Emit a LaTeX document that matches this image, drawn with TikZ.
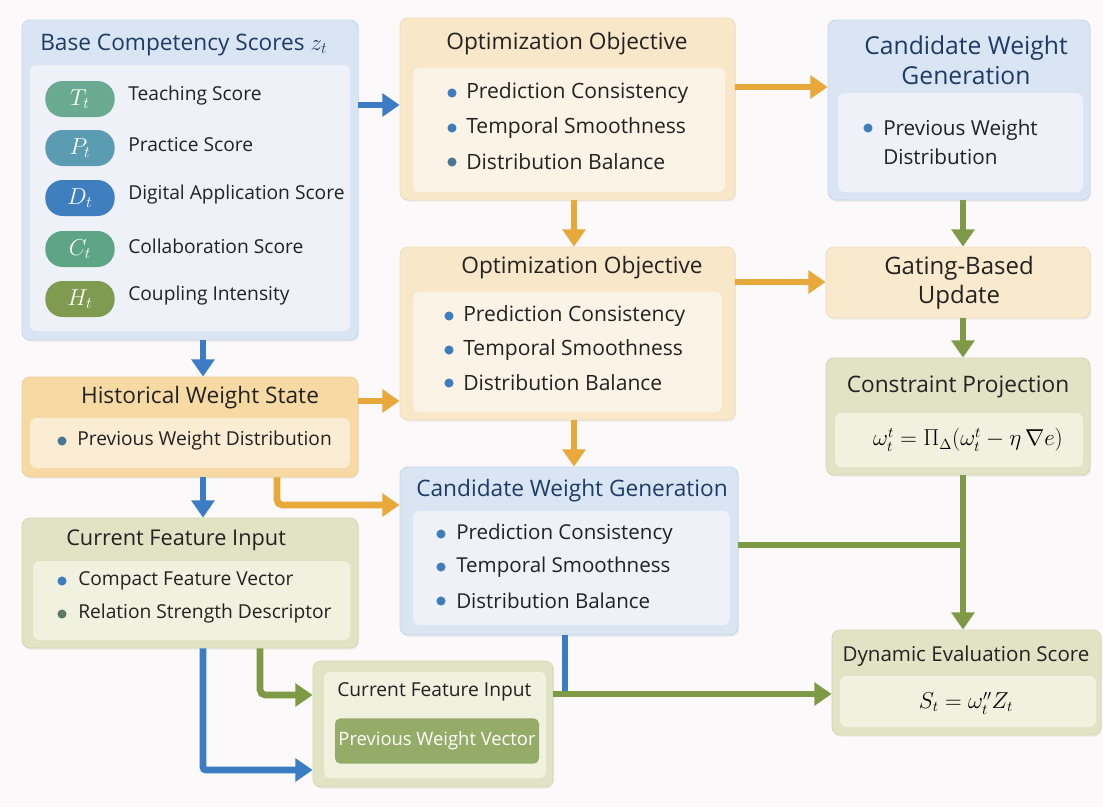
\documentclass[tikz,border=0pt]{standalone}
\usepackage{fontspec}
\setmainfont{Open Sans}
\usepackage{tikz}
\usetikzlibrary{arrows.meta,positioning,fit,shadows}

% palette
\definecolor{bg}{HTML}{FBF9F9}
\definecolor{bluefill}{HTML}{D9E5F3}
\definecolor{blueline}{HTML}{C6D7EB}
\definecolor{bluein}{HTML}{EEF1F8}
\definecolor{orfill}{HTML}{F8E7C8}
\definecolor{orline}{HTML}{F0DDBA}
\definecolor{orin}{HTML}{FBF3E6}
\definecolor{histfill}{HTML}{F7DAA3}
\definecolor{histline}{HTML}{EFCF94}
\definecolor{histin}{HTML}{FBEDD4}
\definecolor{grfill}{HTML}{E0E4C5}
\definecolor{grline}{HTML}{D3D8B2}
\definecolor{grin}{HTML}{F0F1DF}
\definecolor{navy}{HTML}{1D3B64}
\definecolor{ink}{HTML}{222222}
\definecolor{lineblue}{HTML}{3B7CC4}
\definecolor{lineor}{HTML}{E8A93A}
\definecolor{linegr}{HTML}{7F9A47}
\definecolor{dotblue}{HTML}{3D7DBE}
\definecolor{dotteal}{HTML}{4A7693}
\definecolor{dotgrey}{HTML}{5E7866}
\definecolor{btngr}{HTML}{94AC68}

\tikzset{
  box/.style={draw=#1line, fill=#1fill, line width=0.6pt, rounded corners=6pt,
    inner sep=0pt, drop shadow={opacity=0.12, shadow xshift=0.8pt, shadow yshift=-1.2pt}},
  title/.style={font=\fontsize{17}{22.5}\selectfont, text=ink, inner sep=0pt},
  item/.style={anchor=west, font=\fontsize{15.8}{22}\selectfont, text=ink, inner sep=0pt},
  sitem/.style={item, font=\fontsize{14.4}{20}\selectfont},
  pill/.style={fill=#1, rounded corners=13pt, minimum width=52pt, minimum height=27pt,
    inner sep=0pt, text=white, font=\fontsize{17}{20}\selectfont},
  barrow/.style={draw=lineblue, line width=5pt, -{Triangle[width=17pt,length=13pt]}},
  oarrow/.style={draw=lineor, line width=5pt, -{Triangle[width=17pt,length=13pt]}},
  garrow/.style={draw=linegr, line width=5pt, -{Triangle[width=17pt,length=13pt]}},
  gline/.style={draw=linegr, line width=5pt},
}

\begin{document}
\begin{tikzpicture}[x=0.75pt, y=-0.75pt]
\fill[bg] (0,0) rectangle (1103,807);
\useasboundingbox (0,0) rectangle (1103,807);

% Left column
\node[box=blue, fit={(22,20) (358,340)}] (base) {};
\fill[bluein, rounded corners=5pt] (30,65) rectangle (350,331);
\node[title, anchor=west, text=navy] (base-t) at (40,45) {Base Competency Scores $z_t$};
\foreach \y/\s/\c/\t [count=\i] in {96/T/6AAA93/Teaching Score, 145/P/5C9CB2/Practice Score,
    195/D/3F7FC0/Digital Application Score, 246/C/5EA585/Collaboration Score,
    296/H/7E9B4F/Coupling Intensity} {
  \definecolor{pc}{HTML}{\c}
  \node[pill=pc] (pill-\i) at (80,\y+3) {$\s_t$};
  \node[sitem] (score-\i) at (128,\y) {\t};
}

\node[box=hist, fit={(22,377) (358,477)}] (hist) {};
\fill[histin, rounded corners=5pt] (30,418) rectangle (350,468);
\node[title] (hist-t) at (200,398) {Historical Weight State};
\fill[dotteal] (62,441) circle (3.4pt);
\node[sitem] (hist-i) at (77,441) {Previous Weight Distribution};

\node[box=gr, fit={(22,518) (358,648)}] (feat) {};
\fill[grin, rounded corners=5pt] (33,561) rectangle (350,640);
\node[title, anchor=west, font=\fontsize{16.3}{20}\selectfont] (feat-t) at (66,540) {Current Feature Input};
\fill[dotblue] (62,581) circle (3.4pt);
\node[sitem] (feat-1) at (78,581) {Compact Feature Vector};
\fill[dotgrey] (62,614) circle (3.4pt);
\node[sitem] (feat-2) at (78,614) {Relation Strength Descriptor};

% Middle column
\node[box=or, fit={(400,18) (735,200)}] (opt1) {};
\fill[orin, rounded corners=5pt] (413,68) rectangle (725,192);
\node[title] (opt1-t) at (567,44) {Optimization Objective};
\foreach \y/\t/\c [count=\i] in {93/Prediction Consistency/dotblue,
    128/Temporal Smoothness/dotblue, 162/Distribution Balance/dotteal} {
  \fill[\c] (452,\y) circle (3.4pt);
  \node[item] (opt1-\i) at (466,\y) {\t};
}

\node[box=or, fit={(400,247) (735,420)}] (opt2) {};
\fill[orin, rounded corners=5pt] (413,292) rectangle (722,412);
\node[title] (opt2-t) at (582,268) {Optimization Objective};
\foreach \y/\t [count=\i] in {316/Prediction Consistency, 350/Temporal Smoothness,
    383/Distribution Balance} {
  \fill[dotblue] (449,\y) circle (3.4pt);
  \node[item] (opt2-\i) at (463,\y) {\t};
}

\node[box=blue, fit={(400,467) (738,635)}] (cand2) {};
\fill[bluein, rounded corners=5pt] (413,511) rectangle (730,625);
\node[title, text=navy] (cand2-t) at (572,491) {Candidate Weight Generation};
\foreach \y/\t [count=\i] in {534/Prediction Consistency, 567/Temporal Smoothness,
    601/Distribution Balance} {
  \fill[dotblue] (441,\y) circle (3.4pt);
  \node[item, font=\fontsize{15.4}{20}\selectfont] (cand2-\i) at (456,\y) {\t};
}

\node[box=gr, fit={(313,661) (553,787)}] (curr) {};
\fill[grin, rounded corners=4pt] (324,672) rectangle (546,778);
\node[title, anchor=west, font=\fontsize{14.4}{17}\selectfont] (curr-t) at (337,692) {Current Feature Input};
\node[fill=btngr, rounded corners=4pt, inner sep=0pt, minimum width=153pt, minimum height=34pt,
  text=white, font=\fontsize{13.8}{16}\selectfont] (curr-b) at (437,741) {Previous Weight Vector};

% Right column
\node[box=blue, fit={(828,20) (1090,200)}] (cand1) {};
\fill[bluein, rounded corners=5pt] (838,93) rectangle (1083,192);
\node[title, text=navy, align=center, font=\fontsize{18.5}{22.5}\selectfont] (cand1-t) at (966,60) {Candidate Weight\\Generation};
\fill[dotblue] (868,128) circle (3.4pt);
\node[item, align=left, font=\fontsize{15.5}{21.5}\selectfont] (cand1-i) at (883,142) {Previous Weight\\Distribution};

\node[box=or, fill=orfill!90!white, fit={(826,247) (1090,318)}] (gate) {};
\node[title, align=center, font=\fontsize{18}{22}\selectfont] (gate-t) at (959,283) {Gating-Based\\Update};

\node[box=gr, fit={(826,358) (1090,475)}] (proj) {};
\fill[grin, rounded corners=5pt] (835,413) rectangle (1083,467);
\node[title] (proj-t) at (958,387) {Constraint Projection};
\node[inner sep=0pt, font=\fontsize{16}{18}\selectfont] (proj-f) at (968,440)
  {$\omega_t^{t} = \Pi_{\Delta}(\omega_t^{t} - \eta\,\nabla e)$};

\node[box=gr, fit={(832,630) (1101,735)}] (eval) {};
\fill[grin, rounded corners=5pt] (840,676) rectangle (1096,727);
\node[title, font=\fontsize{15.4}{18}\selectfont] (eval-t) at (966,656) {Dynamic Evaluation Score};
\node[inner sep=0pt, font=\fontsize{16}{18}\selectfont] (eval-f) at (966,703) {$S_t = \omega_t^{\prime\prime} Z_t$};

% Connectors
\coordinate (join) at (963,545);
\draw[barrow] (base.east |- 0,105) -- (opt1.west |- 0,105);
\draw[oarrow] (opt1.east |- 0,87) -- (cand1.west |- 0,87);
\draw[oarrow] (opt1.south -| 574,0) -- (opt2.north -| 574,0);
\draw[oarrow] (opt2.east |- 0,282) -- (gate.west |- 0,282);
\draw[oarrow] (opt2.south -| 574,0) -- (cand2.north -| 574,0);
\draw[garrow] (cand1.south -| 963,0) -- (gate.north -| 963,0);
\draw[garrow] (gate.south -| 963,0) -- (proj.north -| 963,0);
\draw[garrow] (proj.south -| join) -- (eval.north -| join);
\draw[gline] (cand2.east |- join) -- (join);
\draw[barrow] (base.south -| 203,0) -- (hist.north -| 203,0);
\draw[oarrow] (hist.east |- 0,401) -- (opt2.west |- 0,401);
\draw[barrow] (hist.south -| 203,0) -- (feat.north -| 203,0);
\draw[oarrow, rounded corners=4pt] (hist.south -| 277,0) |- (cand2.west |- 0,505);
\draw[garrow, rounded corners=4pt] (feat.south -| 260,0) |- (curr.west |- 0,695);
\draw[barrow, rounded corners=2pt] (feat.south -| 203,0) |- (curr.west |- 0,770);
\draw[draw=lineblue, line width=5pt] (cand2.south -| 565,0) -- (565,694);
\draw[garrow] (curr.east |- 0,694) -- (eval.west |- 0,694);
\end{tikzpicture}
\end{document}
